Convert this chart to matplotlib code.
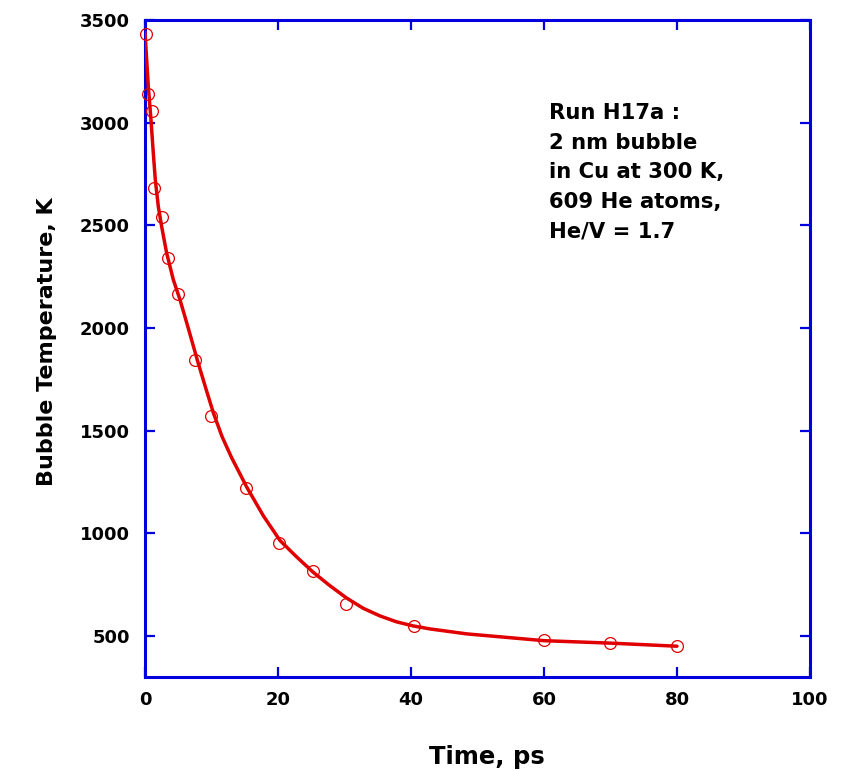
import numpy as np
import matplotlib
matplotlib.use("Agg")
import matplotlib.pyplot as plt

# MD run H17a: bubble temperature vs time
time_ps = [0.1, 0.5, 1.0, 1.4, 2.5, 3.5, 5.0, 7.5, 10.0, 15.2, 20.1, 25.2, 30.2, 40.4, 60.0, 70.0, 80.0]
temp_K = [3430, 3140, 3058, 2680, 2542, 2343, 2163, 1842, 1570, 1220, 953, 817, 656, 549, 481, 467, 452]

# fitted curve
fit_t = [0, 0.5, 0.9, 1.25, 1.55, 2.0, 2.5, 3.25, 4.25, 5.25, 6.5, 7.9, 9.2, 10.3, 11.6, 13.0, 15.3, 17.8,
         20.3, 22.8, 25.3, 27.8, 30.3, 32.8, 35.3, 37.8, 40.3, 42.9, 48.4, 60.0, 70.0, 80.0]
fit_T = [3440, 3176, 3014, 2852, 2722, 2592, 2495, 2366, 2236, 2139, 2000, 1840, 1700, 1585, 1470, 1370, 1225, 1085,
         965, 885, 810, 745, 685, 635, 598, 569, 549, 534, 510, 477, 465, 450]

x_ticks = [0, 20, 40, 60, 80, 100]
y_ticks = [500, 1000, 1500, 2000, 2500, 3000, 3500]

note = "Run H17a :\n2 nm bubble\nin Cu at 300 K,\n609 He atoms,\nHe/V = 1.7"

plt.rcParams['font.family'] = ['DejaVu Sans']
plt.rcParams['font.weight'] = 'bold'

blue = '#0000dd'
red = '#e00000'

fig = plt.figure(figsize=(8.41, 7.71), dpi=100)
ax = fig.add_axes([0.1724, 0.1219, 0.7907, 0.8522])

ax.plot(fit_t, fit_T, color=red, lw=2.5, solid_capstyle='round', solid_joinstyle='round', zorder=3)
ax.plot(time_ps, temp_K, 'o', mfc='none', mec=red, mew=0.9, ms=8.5, zorder=4, clip_on=False)

ax.set_xlim(0, 100)
ax.set_ylim(300, 3500)
ax.set_xticks(x_ticks)
ax.set_yticks(y_ticks)

for s in ax.spines.values():
    s.set_color(blue)
    s.set_linewidth(2.2)

ax.tick_params(direction='in', length=7.5, width=1.6, color=blue,
               top=True, right=True, labelsize=13)
ax.tick_params(axis='x', pad=10)
ax.tick_params(axis='y', pad=11)
for lab in ax.get_xticklabels() + ax.get_yticklabels():
    lab.set_fontweight('bold')

ax.set_xlabel('Time, ps', fontsize=17.5, fontweight='bold')
ax.set_ylabel('Bubble Temperature, K', fontsize=16, fontweight='bold')
ax.xaxis.set_label_coords(0.514, -0.103)
ax.yaxis.set_label_coords(-0.132, 0.511)

ax.text(60.7, 3095, note, fontsize=15.2, fontweight='bold', va='top', ha='left',
        linespacing=1.6)

fig.savefig('out.png', dpi=100)
